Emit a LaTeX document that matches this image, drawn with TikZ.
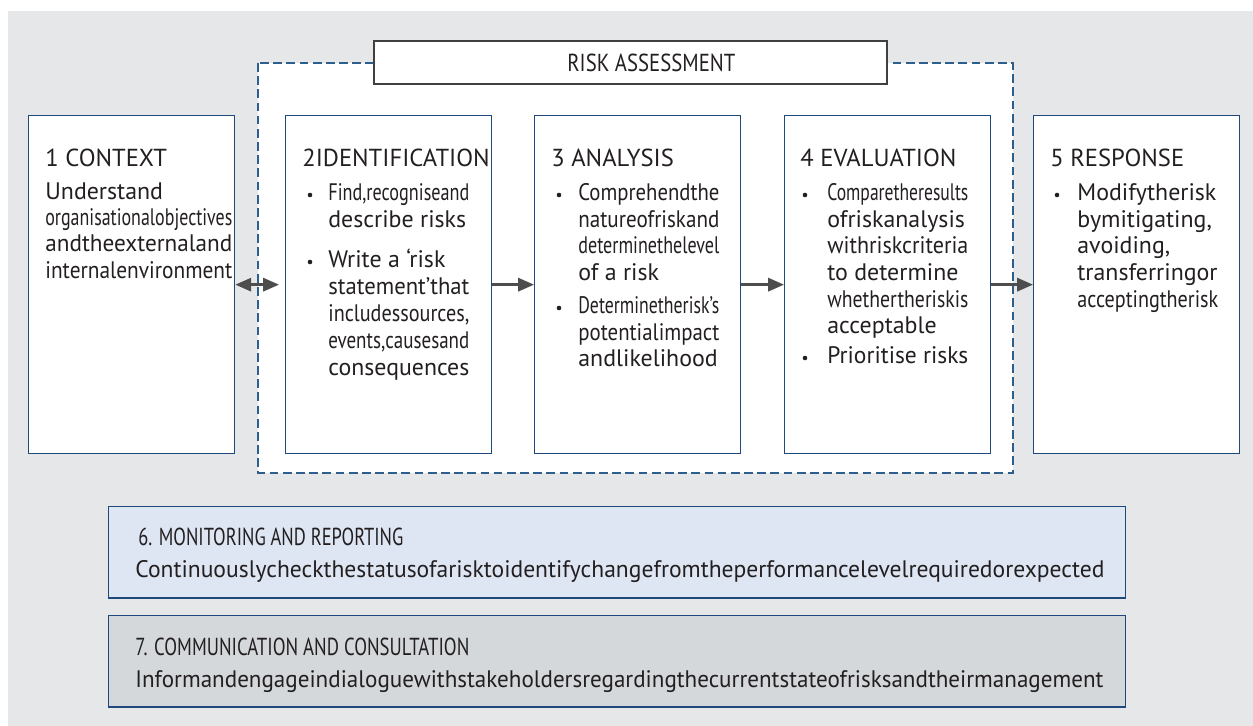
\documentclass[tikz,border=0pt]{standalone}
\usepackage{fontspec}
\setmainfont{PT Sans}
\usepackage{graphicx}
\usetikzlibrary{arrows.meta}
\definecolor{bgc}{RGB}{230,231,232}
\definecolor{boxc}{RGB}{31,73,125}
\definecolor{dashc}{RGB}{46,94,140}
\definecolor{titc}{RGB}{64,64,64}
\definecolor{txtc}{RGB}{35,31,32}
\definecolor{arrc}{RGB}{77,77,77}
\definecolor{monc}{RGB}{222,230,243}
\definecolor{comc}{RGB}{212,216,219}
\newdimen\pxu \pxu=0.02cm
\newsavebox\linebox
\newcommand{\fitl}[2]{\sbox\linebox{#2}\ifdim\wd\linebox>#1\relax\resizebox{#1}{\height}{\usebox\linebox}\else\usebox\linebox\fi}
\newcommand{\fitto}[2]{\resizebox{#1}{\height}{#2}}

\begin{document}
\begin{tikzpicture}[x=0.02cm,y=-0.02cm,
    stage/.style={draw=boxc,line width=0.8pt,fill=white,anchor=north west,inner sep=0pt,
      minimum width=4.12cm,minimum height=6.76cm},
    band/.style={draw=boxc,line width=0.8pt,anchor=north west,inner sep=0pt,
      minimum width=20.34cm,minimum height=1.83cm},
    txt/.style={anchor=base west,inner sep=0pt,text=txtc,font=\fontsize{13.6}{15}\selectfont},
    head/.style={txt,font=\fontsize{14}{16}\selectfont},
    dot/.style={circle,fill=txtc,inner sep=0pt,minimum size=2.6pt},
    flow/.style={line width=1.4pt,draw=arrc,>={Triangle[length=9pt,width=7.5pt]}}]
    \useasboundingbox (0,0) rectangle (1253,726);
    \fill[bgc] (8,11) rectangle (1253,726);

    %RISK ASSESSMENT
    \draw[dashc,line width=0.6pt,dash pattern=on 5pt off 2.5pt,fill=white] (258,63) rectangle (1013,473);
    \node[draw=titc,line width=0.8pt,fill=white,inner sep=0pt,
      minimum width=10.26cm,minimum height=0.86cm] (ratitle) at (630.5,62.5) {};
    \node[head] (ratext) at (567,72) {\fitto{168\pxu}{RISK ASSESSMENT}};

    %STAGES
    \foreach \x/\n in {28/ctx,285/ident,534/anal,784/eval,1033/resp}
      \node[stage] (\n) at (\x,115) {};
    \node[head] (ctx-h) at (45,167) {1 CONTEXT};
    \node[head] (ident-h) at (302,167) {2IDENTIFICATION};
    \node[head] (anal-h) at (551,167) {3 ANALYSIS};
    \node[head] (eval-h) at (800,167) {4 EVALUATION};
    \node[head] (resp-h) at (1050,167) {5 RESPONSE};

    % context
    \foreach \t [count=\i] in {Understand,organisationalobjectives,andtheexternaland,internalenvironment}
      \node[txt] (ctx-\i) at (45,{199+26.4*(\i-1)}) {\fitl{187\pxu}{\t}};

    % identification
    \node[dot] (ident-b1) at (310,195) {};
    \node[dot] (ident-b2) at (310,262) {};
    \foreach \t/\y [count=\i] in {{Find,recogniseand}/200,describe risks/227,Write a ‘risk/267,
        statement’that/294,{includessources,}/321,{events,causesand}/348,consequences/375}
      \node[txt] (ident-\i) at (328,\y) {\fitl{141\pxu}{\t}};

    % analysis
    \node[dot] (anal-b1) at (559,195) {};
    \node[dot] (anal-b2) at (559,308) {};
    \foreach \t/\y [count=\i] in {Comprehendthe/200,natureofriskand/227,determinethelevel/253,of a risk/280,
        Determinetherisk’s/313,potentialimpact/340,andlikelihood/366}
      \node[txt] (anal-\i) at (578,\y) {\fitl{141\pxu}{\t}};

    % evaluation
    \node[dot] (eval-b1) at (805,195) {};
    \node[dot] (eval-b2) at (805,358) {};
    \foreach \t/\y [count=\i] in {Comparetheresults/200,ofriskanalysis/227,withriskcriteria/253,to determine/280,
        whethertheriskis/307,acceptable/333,Prioritise risks/363}
      \node[txt] (eval-\i) at (827,\y) {\fitl{141\pxu}{\t}};

    % response
    \node[dot] (resp-b1) at (1057,195) {};
    \foreach \t/\y [count=\i] in {Modifytherisk/200,{bymitigating,}/227,{avoiding,}/253,transferringor/280,
        acceptingtherisk/307}
      \node[txt] (resp-\i) at (1077,\y) {\fitl{141\pxu}{\t}};

    %ARROWS
    \draw[flow,<->,shorten >=0.12cm] (ctx) -- (ident);
    \draw[flow,->] (ident) -- (anal);
    \draw[flow,->] (anal) -- (eval);
    \draw[flow,->] (eval) -- (resp);

    %MONITORING + COMMUNICATION
    \node[band,fill=monc] (mon) at (108,506) {};
    \node[band,fill=comc] (com) at (108,615) {};
    \node[head] (mon-h) at (138,545) {\fitto{265\pxu}{6. MONITORING AND REPORTING}};
    \node[txt] (mon-t) at (135,577)
      {\fitto{969\pxu}{Continuouslycheckthestatusofarisktoidentifychangefromtheperformancelevelrequiredorexpected}};
    \node[head] (com-h) at (135,655) {\fitto{334\pxu}{7. COMMUNICATION AND CONSULTATION}};
    \node[txt] (com-t) at (135,687)
      {\fitto{968\pxu}{Informandengageindialoguewithstakeholdersregardingthecurrentstateofrisksandtheirmanagement}};
\end{tikzpicture}
\end{document}
